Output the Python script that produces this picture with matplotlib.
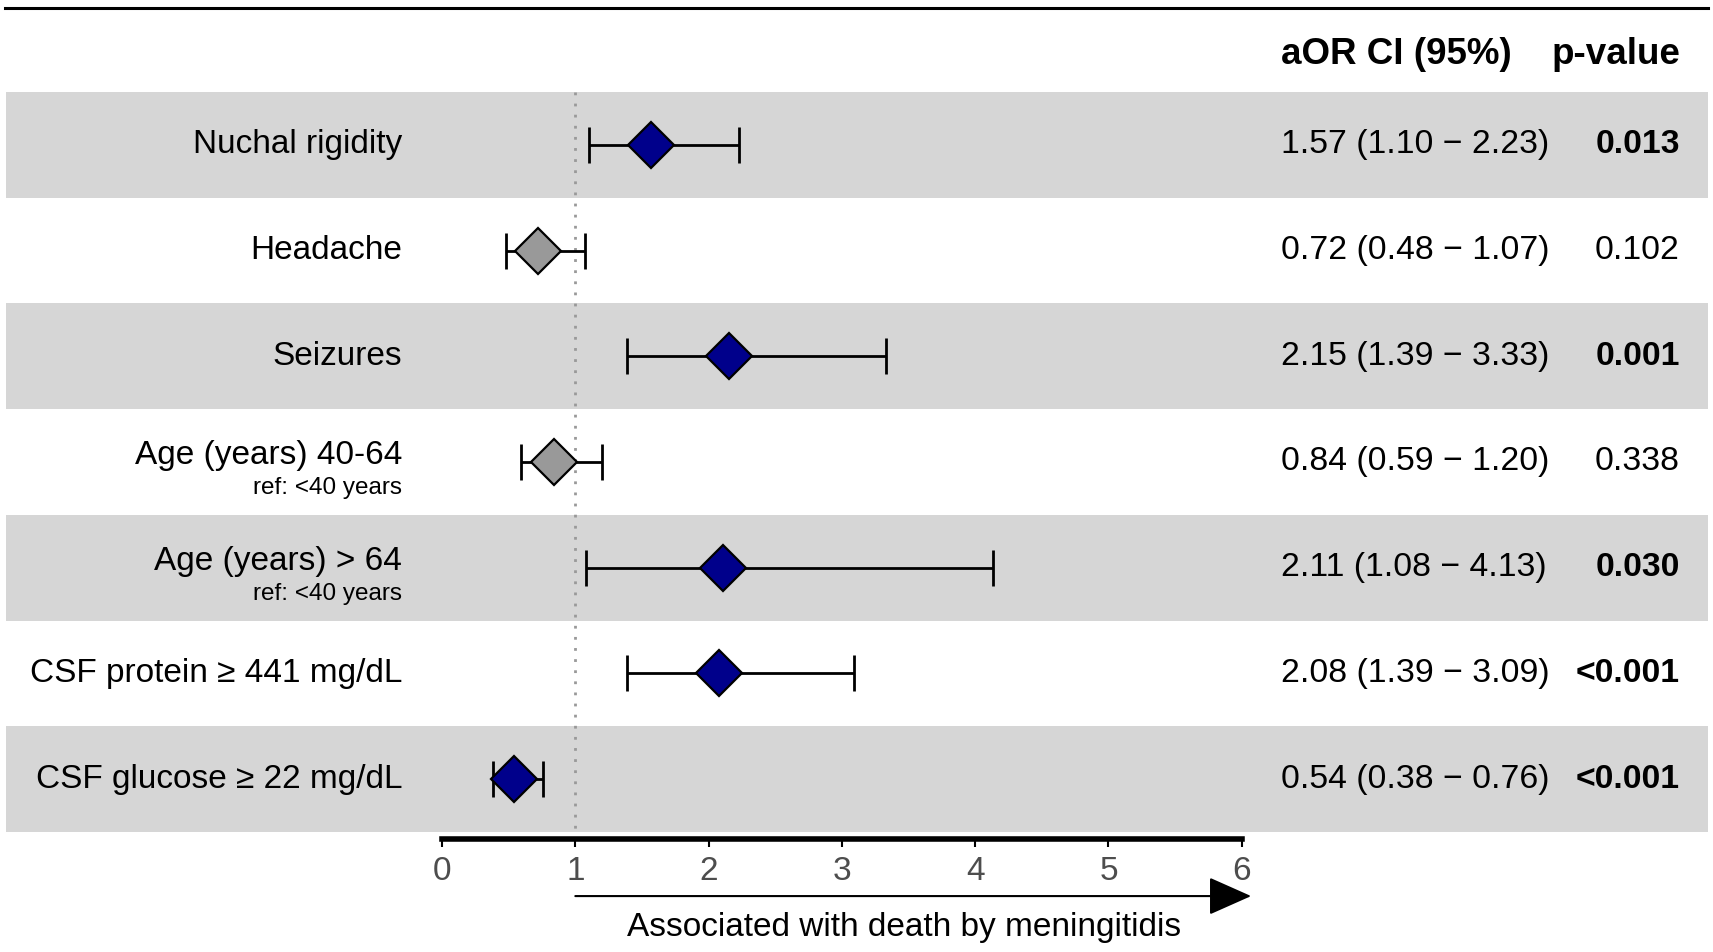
import matplotlib
matplotlib.use("Agg")
import matplotlib.pyplot as plt

plt.rcParams['font.family'] = ['Liberation Sans', 'DejaVu Sans']

labels = ["Nuchal rigidity", "Headache", "Seizures", "Age (years) 40-64",
          "Age (years) > 64", "CSF protein \u2265 441 mg/dL", "CSF glucose \u2265 22 mg/dL"]
sublabels = ["", "", "", "ref: <40 years", "ref: <40 years", "", ""]
aor = [1.57, 0.72, 2.15, 0.84, 2.11, 2.08, 0.54]
ci_low = [1.10, 0.48, 1.39, 0.59, 1.08, 1.39, 0.38]
ci_high = [2.23, 1.07, 3.33, 1.20, 4.13, 3.09, 0.76]
p_values = ["0.013", "0.102", "0.001", "0.338", "0.030", "<0.001", "<0.001"]
x_ticks = [0, 1, 2, 3, 4, 5, 6]

fig = plt.figure(figsize=(17.13, 9.52), dpi=100)
ax = fig.add_axes([0, 0, 1, 1])
ax.set_xlim(-3.316, 9.535)
ax.set_ylim(7.635, -1.370)

n = len(labels)
# alternating grey bands
for i in range(n):
    if i % 2 == 0:
        ax.axhspan(i - 0.5, i + 0.5, xmin=0.0035, xmax=0.997, color='#d6d6d6', lw=0, zorder=0)

# top rule
ax.axhline(-1.295, xmin=0.003, xmax=0.997, color='black', lw=2.2)

# reference line at 1
ax.plot([1, 1], [-0.5, n - 0.5], color='#999999', lw=2, ls=(0, (1, 3)), zorder=1)

for i in range(n):
    sig = ci_low[i] > 1 or ci_high[i] < 1
    ax.errorbar(aor[i], i, xerr=[[aor[i] - ci_low[i]], [ci_high[i] - aor[i]]],
                fmt='none', ecolor='black', elinewidth=2, capsize=13, capthick=2, zorder=2)
    ax.plot(aor[i], i, marker='D', ms=23, mfc='#00008b' if sig else '#999999',
            mec='black', mew=1.6, zorder=3)

    if sublabels[i]:
        ax.text(-0.30, i - 0.06, labels[i], ha='right', va='center', fontsize=24)
        ax.text(-0.30, i + 0.25, sublabels[i], ha='right', va='center', fontsize=17.5)
    else:
        ax.text(-0.30, i, labels[i], ha='right', va='center', fontsize=24)

    ax.text(6.294, i, f"{aor[i]:.2f} ({ci_low[i]:.2f} \u2212 {ci_high[i]:.2f})",
            ha='left', va='center', fontsize=24.3)
    pnum = float(p_values[i].replace('<', ''))
    ax.text(9.287, i, p_values[i], ha='right', va='center', fontsize=24.3,
            fontweight='bold' if pnum < 0.05 else 'normal')

# header
ax.text(6.294, -0.855, "aOR CI (95%)", ha='left', va='center', fontsize=26.5, fontweight='bold')
ax.text(9.287, -0.855, "p-value", ha='right', va='center', fontsize=26.5, fontweight='bold')

# x axis
for s in ['top', 'left', 'right']:
    ax.spines[s].set_visible(False)
ax.spines['bottom'].set_position(('data', 6.567))
ax.spines['bottom'].set_bounds(0, 6)
ax.spines['bottom'].set_linewidth(4)
ax.set_xticks(x_ticks)
ax.set_xticklabels([str(t) for t in x_ticks])
ax.tick_params(axis='x', direction='out', length=6, width=1.5, labelsize=24,
               labelcolor='#4d4d4d', pad=6)
ax.set_yticks([])

ax.annotate('', xy=(6.07, 7.106), xytext=(1, 7.106),
            arrowprops=dict(arrowstyle='-|>,head_length=0.9,head_width=0.4',
                            lw=1.5, color='black', mutation_scale=30, shrinkA=0, shrinkB=0))
ax.text(3.47, 7.40, "Associated with death by meningitidis", ha='center', va='center', fontsize=24)

fig.savefig("out.png", dpi=100)
